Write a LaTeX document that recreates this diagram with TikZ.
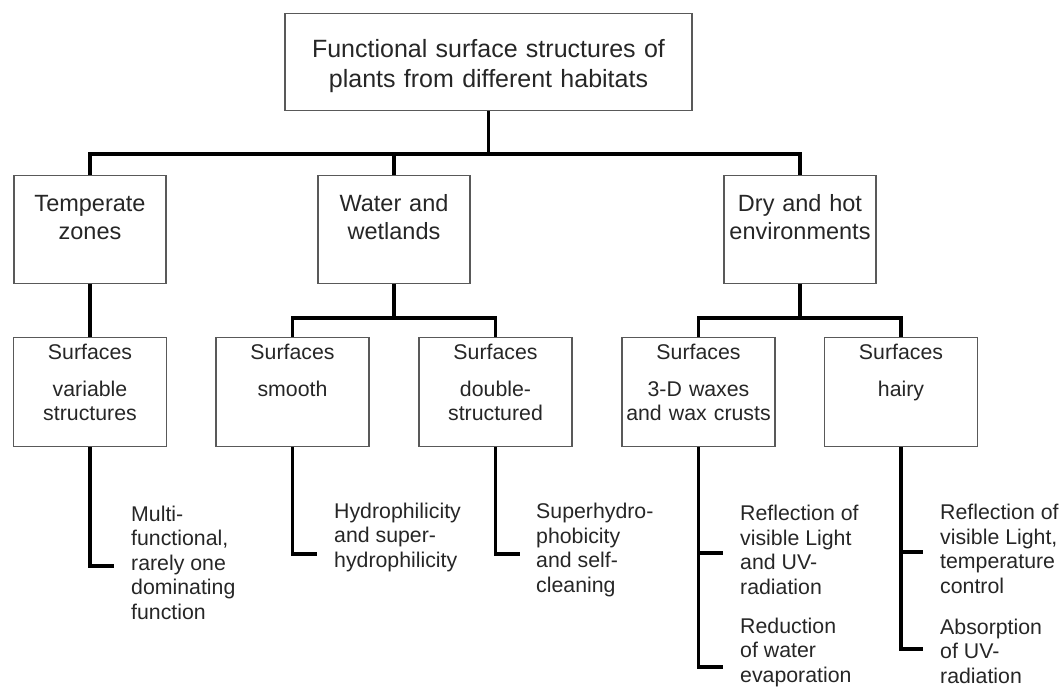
\documentclass[tikz,border=0pt]{standalone}
\usepackage{fontspec}
\setmainfont{Liberation Sans}
\begin{document}
\begin{tikzpicture}[x=1pt, y=-1pt]
      \tikzset{box/.style={draw=black!65, line width=1.2pt, anchor=north, align=center, inner xsep=3pt, inner ysep=0pt, text=black!85},
        rootbox/.style={box, text width=401pt, text height=44pt, text depth=53pt, font=\fontsize{25}{30}\selectfont},
        habitat/.style={box, text width=146pt, text height=36pt, text depth=72pt, font=\fontsize{23.5}{28}\selectfont},
        surface/.style={box, text width=147pt, text height=22pt, text depth=87pt, font=\fontsize{21.3}{24.5}\selectfont},
        effect/.style={anchor=west, align=left, inner sep=0pt, text=black!85, font=\fontsize{21.3}{24.5}\selectfont},
        link/.style={line width=3.2pt, black}}
      \useasboundingbox (0,0) rectangle (1062,689);
      \node[rootbox] (root) at (488.5,13) {Functional surface structures of\\plants from different habitats};
      \node[habitat] (temperate) at (90,175) {Temperate\\zones};
      \node[habitat] (water) at (394,175) {Water and\\wetlands};
      \node[habitat] (dry) at (800,175) {Dry and hot\\environments};
      \node[surface] (variable) at (90,337) {Surfaces\\[12pt]variable\\structures};
      \node[surface] (smooth) at (292.5,337) {Surfaces\\[12pt]smooth};
      \node[surface] (double) at (495.5,337) {Surfaces\\[12pt]double-\\structured};
      \node[surface] (waxes) at (698.5,337) {Surfaces\\[12pt]3-D waxes\\and wax crusts};
      \node[surface] (hairy) at (901,337) {Surfaces\\[12pt]hairy};
      \node[effect] (multi) at (131,562.5) {Multi-\\functional,\\rarely one\\dominating\\function};
      \node[effect] (hydrophil) at (334,537) {Hydrophilicity\\and super-\\hydrophilicity};
      \node[effect] (hydrophob) at (536,550) {Superhydro-\\phobicity\\and self-\\cleaning};
      \node[effect] (reflwax) at (740,550) {Reflection of\\visible Light\\and UV-\\radiation};
      \node[effect] (evap) at (740,652) {Reduction\\of water\\evaporation};
      \node[effect] (reflhair) at (940,549) {Reflection of\\visible Light,\\temperature\\control};
      \node[effect] (absorb) at (940,651) {Absorption\\of UV-\\radiation};
      \coordinate (bus) at (488.5,154);
      \coordinate (wbus) at (394,318);
      \coordinate (dbus) at (800,318);
      \coordinate (hmulti) at (114,566);
      \coordinate (hhydrophil) at (317,554);
      \coordinate (hhydrophob) at (520,554);
      \coordinate (hreflwax) at (723,553);
      \coordinate (hevap) at (723,667);
      \coordinate (hreflhair) at (923,552);
      \coordinate (habsorb) at (923,649);
      \draw[link] (root.south) -- (bus);
      \draw[link] (temperate.north) |- (bus) -| (dry.north);
      \draw[link] (water.north) -- (water.north |- bus);
      \draw[link] (temperate.south) -- (variable.north);
      \draw[link] (water.south) -- (wbus);
      \draw[link] (smooth.north) |- (wbus) -| (double.north);
      \draw[link] (dry.south) -- (dbus);
      \draw[link] (waxes.north) |- (dbus) -| (hairy.north);
      \draw[link] (variable.south) |- (hmulti);
      \draw[link] (smooth.south) |- (hhydrophil);
      \draw[link] (double.south) |- (hhydrophob);
      \draw[link] (waxes.south) |- (hevap);
      \draw[link] (waxes.south |- hreflwax) -- (hreflwax);
      \draw[link] (hairy.south) |- (habsorb);
      \draw[link] (hairy.south |- hreflhair) -- (hreflhair);
    \end{tikzpicture}
\end{document}
